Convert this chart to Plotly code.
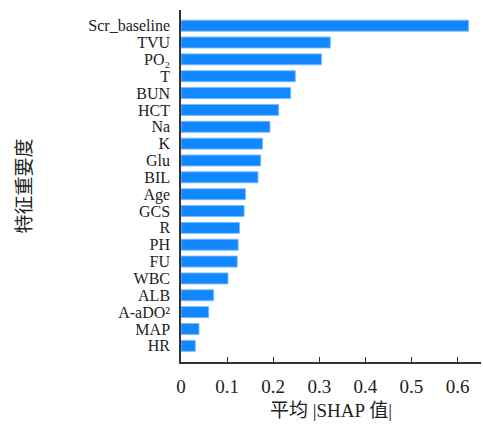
import plotly.graph_objects as go

features = ["Scr_baseline", "TVU", "PO₂", "T", "BUN", "HCT", "Na", "K", "Glu", "BIL",
            "Age", "GCS", "R", "PH", "FU", "WBC", "ALB", "A-aDO²", "MAP", "HR"]
mean_shap = [0.624, 0.324, 0.305, 0.248, 0.238, 0.212, 0.193, 0.177, 0.173, 0.167,
             0.140, 0.137, 0.127, 0.124, 0.122, 0.102, 0.071, 0.060, 0.039, 0.031]
x_ticks = [0, 0.1, 0.2, 0.3, 0.4, 0.5, 0.6]
x_tick_labels = ["0", "0.1", "0.2", "0.3", "0.4", "0.5", "0.6"]

serif = "Liberation Serif, Times New Roman, serif"
mixed = "Liberation Serif, Noto Sans CJK SC"
cjk = "Noto Sans CJK SC"

fig = go.Figure(go.Bar(
    x=mean_shap, y=list(range(len(features))), orientation="h",
    marker=dict(color="#1188ff", line=dict(color="rgba(120,185,255,0.9)", width=1)),
    width=0.65,
))

n = len(features)
fig.update_layout(
    width=483, height=433,
    margin=dict(l=181, r=2, t=10, b=71),
    plot_bgcolor="white", paper_bgcolor="white",
    showlegend=False,
    xaxis=dict(
        range=[0, 0.651], tickmode="array", tickvals=x_ticks, ticktext=x_tick_labels,
        ticks="inside", ticklen=5, tickwidth=1, tickcolor="#333",
        showline=True, linecolor="#333", linewidth=1.5,
        showgrid=False, zeroline=False, automargin=False,
        tickfont=dict(family=serif, size=19, color="#222"),
        ticklabelstandoff=6,
        title=dict(text="平均 |SHAP 值|",
                   font=dict(family=mixed, size=19, color="#222"), standoff=8),
    ),
    yaxis=dict(
        tickmode="array", tickvals=list(range(n)), ticktext=features,
        range=[n - 1 + 0.96, -0.93],
        showline=True, linecolor="#333", linewidth=1.5,
        ticks="", showgrid=False, zeroline=False, automargin=False,
        tickfont=dict(family=serif, size=16, color="#222"),
        ticklabelstandoff=6,
        title=dict(text="特征重要度", font=dict(family=cjk, size=19, color="#222"), standoff=52),
    ),
)

fig.write_html("out.html", config={"displayModeBar": False},
               post_script="document.body.style.margin='0';")
